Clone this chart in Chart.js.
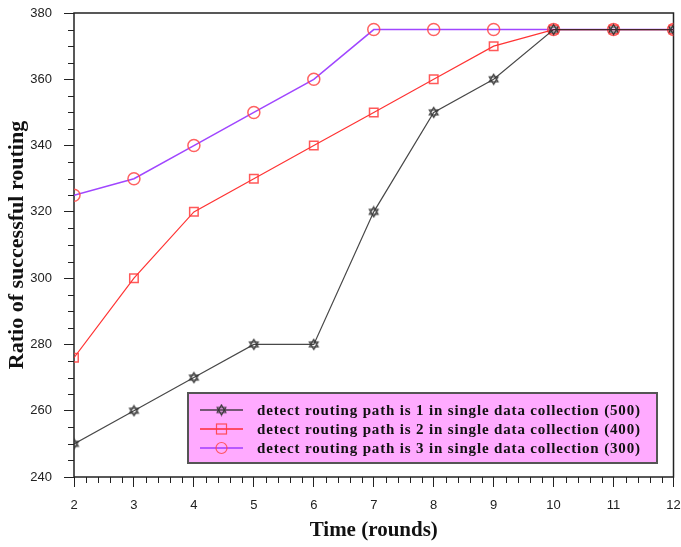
<!DOCTYPE html>
<html>
<head>
<meta charset="utf-8">
<script src="https://cdn.jsdelivr.net/npm/chart.js@4.4.1/dist/chart.umd.min.js"></script>
<style>
  body { margin: 0; background: #fff; }
  #wrap { width: 681px; height: 547px; }
</style>
</head>
<body>
<div id="wrap"><canvas id="routingChart" width="681" height="547"></canvas></div>
<script>
const rounds = [2, 3, 4, 5, 6, 7, 8, 9, 10, 11, 12];
const path1 = [250, 260, 270, 280, 280, 320, 350, 360, 375, 375, 375];
const path2 = [276, 300, 320, 330, 340, 350, 360, 370, 375, 375, 375];
const path3 = [325, 330, 340, 350, 360, 375, 375, 375, 375, 375, 375];
const seriesNames = [
    "detect routing path is 1 in single data collection (500)",
    "detect routing path is 2 in single data collection (400)",
    "detect routing path is 3 in single data collection (300)"
];

function toPoints(vals) {
    return vals.map((v, i) => ({ x: rounds[i], y: v }));
}

// small hexagram marker for the first series
function starMarker() {
    const c = document.createElement("canvas");
    c.width = 13; c.height = 13;
    const g = c.getContext("2d");
    g.strokeStyle = "#333";
    g.lineWidth = 1.2;
    const r = 5;
    for (let k = 0; k < 2; k++) {
        g.beginPath();
        for (let j = 0; j < 3; j++) {
            const a = -Math.PI / 2 + k * Math.PI + j * 2 * Math.PI / 3;
            const px = 6.5 + r * Math.cos(a), py = 6.5 + r * Math.sin(a);
            if (j == 0) g.moveTo(px, py); else g.lineTo(px, py);
        }
        g.closePath();
        g.stroke();
    }
    return c;
}

// frame + minor ticks + legend box
const extras = {
    id: "extras",
    beforeDatasetsDraw(chart) {
        const ctx = chart.ctx;
        const a = chart.chartArea;
        const xs = chart.scales.x, ys = chart.scales.y;
        ctx.save();
        ctx.strokeStyle = "#222";
        ctx.lineWidth = 1.5;
        ctx.strokeRect(a.left, a.top, a.right - a.left, a.bottom - a.top);
        ctx.lineWidth = 1;
        ctx.beginPath();
        for (let v = 240; v <= 380; v += 5) {
            if (v % 20 == 0) continue;
            const y = Math.round(ys.getPixelForValue(v)) + 0.5;
            ctx.moveTo(a.left - 6, y); ctx.lineTo(a.left, y);
        }
        for (let i = 0; i <= 50; i++) {
            if (i % 5 == 0) continue;
            const x = Math.round(xs.getPixelForValue(2 + i * 0.2)) + 0.5;
            ctx.moveTo(x, a.bottom); ctx.lineTo(x, a.bottom + 6);
        }
        ctx.stroke();
        ctx.restore();
    },
    afterDraw(chart) {
        const ctx = chart.ctx;
        const bx = 188, by = 393, bw = 469, bh = 70;
        ctx.save();
        ctx.fillStyle = "#ffaaff";
        ctx.fillRect(bx, by, bw, bh);
        ctx.strokeStyle = "#555";
        ctx.lineWidth = 2;
        ctx.strokeRect(bx, by, bw, bh);
        ctx.font = "bold 15px 'Liberation Serif', 'DejaVu Serif', serif";
        ctx.textBaseline = "middle";
        chart.data.datasets.forEach((ds, i) => {
            const y = by + 17 + i * 19;
            ctx.strokeStyle = ds.borderColor;
            ctx.lineWidth = 1.5;
            ctx.beginPath();
            ctx.moveTo(bx + 12, y); ctx.lineTo(bx + 55, y);
            ctx.stroke();
            const ps = ds.pointStyle;
            ctx.strokeStyle = ds.pointBorderColor;
            ctx.lineWidth = 1.2;
            if (ps === "rect") {
                ctx.strokeRect(bx + 28.5, y - 5, 10, 10);
            } else if (ps === "circle") {
                ctx.beginPath();
                ctx.arc(bx + 33.5, y, 5.5, 0, Math.PI * 2);
                ctx.stroke();
            } else {
                ctx.drawImage(ps, bx + 27, y - 6.5);
            }
            // stretch the label to the legend's text width
            ctx.letterSpacing = "0px";
            const w = ctx.measureText(ds.label).width;
            ctx.letterSpacing = ((384 - w) / ds.label.length).toFixed(2) + "px";
            ctx.fillStyle = "#111";
            ctx.fillText(ds.label, bx + 69, y + 1);
            ctx.letterSpacing = "0px";
        });
        ctx.restore();
    }
};

const ctx = document.getElementById("routingChart").getContext("2d");
new Chart(ctx, {
    type: "line",
    data: {
        datasets: [
            {
                label: seriesNames[0],
                data: toPoints(path1),
                borderColor: "rgba(40,40,40,0.85)",
                borderWidth: 1.2,
                pointStyle: starMarker(),
                pointBorderColor: "#333",
                pointRadius: 6
            },
            {
                label: seriesNames[1],
                data: toPoints(path2),
                borderColor: "rgba(255,30,30,0.9)",
                borderWidth: 1.2,
                pointStyle: "rect",
                pointRadius: 6,
                pointBorderWidth: 1.5,
                pointBorderColor: "rgba(255,60,60,0.85)",
                pointBackgroundColor: "rgba(0,0,0,0)"
            },
            {
                label: seriesNames[2],
                data: toPoints(path3),
                borderColor: "rgba(150,50,255,0.9)",
                borderWidth: 1.5,
                pointStyle: "circle",
                pointRadius: 6,
                pointBorderWidth: 1.5,
                pointBorderColor: "rgba(255,70,70,0.85)",
                pointBackgroundColor: "rgba(0,0,0,0)"
            }
        ]
    },
    options: {
        responsive: false,
        animation: false,
        layout: { padding: { top: 13, right: -4 } },
        plugins: { legend: { display: false }, tooltip: { enabled: false } },
        elements: { line: { tension: 0 } },
        scales: {
            x: {
                type: "linear",
                min: 2, max: 12,
                afterFit: s => { s.height = 70; s.paddingRight = 0; s.paddingLeft = 0; },
                ticks: {
                    stepSize: 1,
                    padding: 11,
                    color: "#222",
                    font: { family: "'Liberation Sans', Arial, sans-serif", size: 13 }
                },
                grid: { drawOnChartArea: false, tickLength: 10, color: "#222", tickColor: "#222" },
                border: { display: false },
                title: {
                    display: true,
                    text: "Time (rounds)",
                    color: "#111",
                    font: { family: "'Liberation Serif', 'DejaVu Serif', serif", size: 21, weight: "bold" },
                    padding: { top: 0, bottom: 4 }
                }
            },
            y: {
                min: 240, max: 380,
                afterFit: s => { s.width = 74; s.paddingTop = 0; s.paddingBottom = 0; },
                ticks: {
                    stepSize: 20,
                    padding: 12,
                    color: "#222",
                    font: { family: "'Liberation Sans', Arial, sans-serif", size: 13 }
                },
                grid: { drawOnChartArea: false, tickLength: 10, color: "#222", tickColor: "#222" },
                border: { display: false },
                title: {
                    display: true,
                    text: "Ratio of successful routing",
                    color: "#111",
                    font: { family: "'Liberation Serif', 'DejaVu Serif', serif", size: 22, weight: "bold" },
                    padding: { top: 4, bottom: 0 }
                }
            }
        }
    },
    plugins: [extras]
});
</script>
</body>
</html>
